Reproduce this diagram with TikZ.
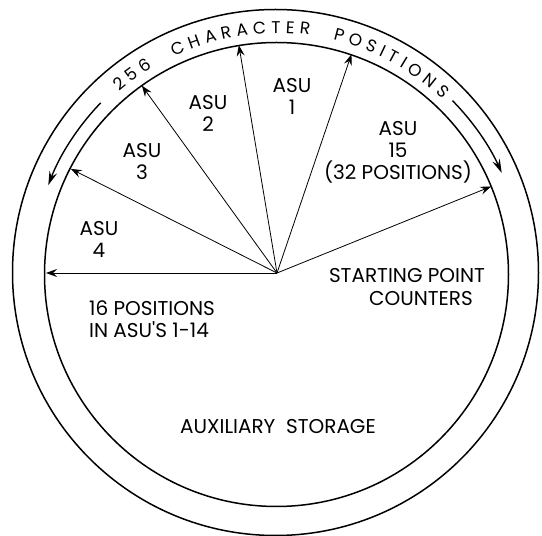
\documentclass[tikz,border=0pt]{standalone}
\usepackage{fontspec}
\setmainfont{Poppins}
\usetikzlibrary{arrows.meta,calc,decorations.text}
\begin{document}
\begin{tikzpicture}[x=1pt,y=1pt,
  ring/.style={line width=1.5pt},
  ray/.style={line width=0.8pt,-{Stealth[length=11pt,width=8pt,inset=4pt]}},
  bandarrow/.style={line width=1.4pt,-{Stealth[length=14pt,width=8pt,inset=5pt]}},
  lbl/.style={font=\fontsize{20}{22}\selectfont, align=center, inner sep=0pt},
]
\useasboundingbox (0,0) rectangle (542,536);
\coordinate (c) at (277,263);
\coordinate (co) at (275.5,263.5);
\coordinate (ci) at (276.5,261.5);
\draw[ring] (co) circle[radius=263];
\draw[ring] (ci) circle[radius=232];
% rays
\foreach \a/\n in {180/e0,153.2/e1,125.8/e2,99.5/e3,71.2/e4,22/e5}{
  \coordinate (\n) at ($(c)+(\a:231)$);
  \draw[ray] (c) -- (\n);
}
% band arrows
\coordinate (la) at ($(c)+(136:245)$);
\coordinate (ra) at ($(c)+(44.5:246)$);
\draw[bandarrow] (la) arc[start angle=136, end angle=159, radius=245];
\draw[bandarrow] (ra) arc[start angle=44.5, end angle=24, radius=246];
% curved title
\path[decorate, decoration={text along path,
  text={|\fontsize{17}{17}\selectfont|256{ }{ }CHARACTER{ }{ }POSITIONS},
  text align={fit to path}}]
  ($(c)+(131:240)$) arc[start angle=131, end angle=46.5, radius=240];
% labels
\node[lbl] (asu1) at (292,440) {ASU\\1};
\node[lbl] (asu2) at (208,423) {ASU\\2};
\node[lbl] (asu3) at (142,375) {ASU\\3};
\node[lbl] (asu4) at (99,297) {ASU\\4};
\node[lbl] (asu15) at (398,384) {ASU\\15\\(32 POSITIONS)};
\node[lbl, align=left] (sixteen) at (152,217) {16 POSITIONS\\IN ASU\textquotesingle S 1-14};
\node[lbl] (spc1) at (407,260) {STARTING POINT};
\node[lbl] (spc2) at (421,237) {COUNTERS};
\node[lbl] (aux) at (278,109) {AUXILIARY{ }{ }STORAGE};
\end{tikzpicture}
\end{document}
